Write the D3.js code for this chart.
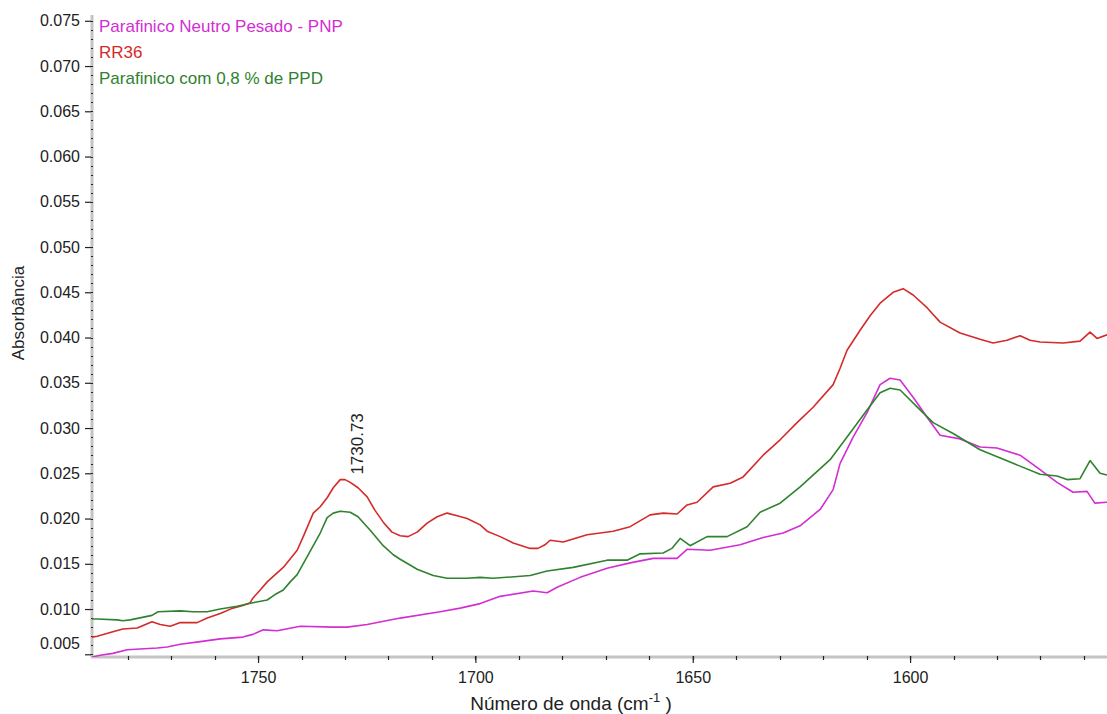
<!DOCTYPE html>
<html>
<head>
<meta charset="utf-8">
<script src="https://cdn.jsdelivr.net/npm/d3@7"></script>
<style>
  body { margin: 0; background: #fff; }
  text { font-family: "Liberation Sans", Arial, sans-serif; }
</style>
</head>
<body>
<svg id="chart" width="1107" height="714"></svg>
<script>
// series (wavenumber in cm-1, absorbance)
var pnpWave = [1788.2, 1786.3, 1783.4, 1780.1, 1773.2, 1770.9, 1767.9, 1763.3, 1758.7, 1753.5, 1751.2, 1748.8, 1745.6, 1740.3, 1732.7, 1729.5, 1724.9, 1717.3, 1708.1, 1703.5, 1698.9, 1694.3, 1686.7, 1683.5, 1681.2, 1675.9, 1669.7, 1664.4, 1659.1, 1653.6, 1651.3, 1646.0, 1639.1, 1633.8, 1629.2, 1625.3, 1620.7, 1617.7, 1616.1, 1613.1, 1609.9, 1606.9, 1604.6, 1602.3, 1599.3, 1596.1, 1593.1, 1588.5, 1583.9, 1580.0, 1574.7, 1570.1, 1566.2, 1562.5, 1559.3, 1557.5, 1554.7];
var pnpAbs = [0.0047, 0.0049, 0.0051, 0.0055, 0.0057, 0.0058, 0.0061, 0.0064, 0.0067, 0.0069, 0.0072, 0.0077, 0.0076, 0.0081, 0.0080, 0.0080, 0.0083, 0.0090, 0.0097, 0.0101, 0.0106, 0.0114, 0.0120, 0.0118, 0.0124, 0.0135, 0.0145, 0.0151, 0.0156, 0.0156, 0.0166, 0.0165, 0.0171, 0.0179, 0.0184, 0.0192, 0.0210, 0.0232, 0.0261, 0.0290, 0.0317, 0.0348, 0.0355, 0.0353, 0.0334, 0.0312, 0.0292, 0.0288, 0.0279, 0.0278, 0.0270, 0.0254, 0.0240, 0.0229, 0.0230, 0.0217, 0.0218];

var rrWave = [1788.2, 1787.0, 1783.4, 1781.1, 1777.8, 1774.4, 1772.5, 1770.2, 1767.9, 1764.0, 1761.7, 1758.7, 1755.8, 1753.5, 1751.8, 1751.2, 1749.5, 1747.9, 1744.2, 1741.0, 1739.6, 1737.3, 1735.7, 1734.1, 1732.7, 1731.1, 1730.0, 1728.8, 1727.0, 1724.9, 1723.1, 1721.2, 1719.2, 1717.3, 1715.5, 1713.4, 1711.1, 1708.8, 1706.5, 1704.2, 1701.9, 1698.9, 1697.3, 1694.3, 1691.3, 1687.4, 1685.6, 1684.0, 1682.8, 1679.8, 1674.3, 1668.3, 1664.4, 1659.8, 1656.8, 1653.6, 1651.3, 1649.0, 1645.3, 1641.4, 1638.4, 1633.8, 1629.9, 1626.0, 1622.3, 1617.7, 1616.1, 1614.5, 1611.5, 1609.2, 1606.9, 1603.9, 1601.6, 1599.3, 1596.1, 1593.1, 1588.5, 1583.9, 1580.9, 1577.7, 1574.7, 1572.4, 1570.1, 1564.8, 1560.9, 1558.6, 1557.0, 1554.7];
var rrAbs = [0.0069, 0.0070, 0.0075, 0.0078, 0.0079, 0.0086, 0.0083, 0.0081, 0.0085, 0.0085, 0.0090, 0.0095, 0.0101, 0.0104, 0.0107, 0.0112, 0.0121, 0.0130, 0.0146, 0.0165, 0.0180, 0.0206, 0.0213, 0.0223, 0.0234, 0.0243, 0.0243, 0.0240, 0.0234, 0.0224, 0.0209, 0.0196, 0.0185, 0.0181, 0.0180, 0.0185, 0.0195, 0.0202, 0.0206, 0.0203, 0.0200, 0.0193, 0.0186, 0.0180, 0.0173, 0.0167, 0.0167, 0.0171, 0.0176, 0.0174, 0.0182, 0.0186, 0.0191, 0.0204, 0.0206, 0.0205, 0.0215, 0.0218, 0.0235, 0.0239, 0.0246, 0.0270, 0.0287, 0.0306, 0.0323, 0.0348, 0.0366, 0.0386, 0.0408, 0.0424, 0.0438, 0.0450, 0.0454, 0.0447, 0.0433, 0.0417, 0.0405, 0.0398, 0.0394, 0.0397, 0.0402, 0.0397, 0.0395, 0.0394, 0.0396, 0.0406, 0.0399, 0.0403];

var ppdWave = [1788.2, 1787.0, 1782.4, 1781.1, 1779.4, 1774.4, 1773.0, 1767.9, 1765.0, 1761.7, 1758.7, 1754.8, 1751.2, 1747.9, 1746.1, 1744.2, 1742.6, 1741.0, 1738.7, 1735.7, 1734.1, 1732.7, 1731.1, 1728.8, 1727.0, 1724.2, 1721.2, 1718.9, 1717.3, 1713.4, 1709.7, 1706.5, 1701.9, 1698.9, 1695.9, 1687.4, 1683.5, 1677.5, 1669.7, 1665.1, 1662.1, 1656.8, 1654.8, 1652.9, 1650.6, 1646.7, 1642.1, 1637.5, 1634.5, 1629.9, 1625.3, 1618.4, 1614.5, 1609.9, 1606.9, 1604.6, 1602.3, 1597.7, 1594.7, 1590.1, 1583.9, 1576.3, 1570.1, 1566.2, 1563.9, 1560.9, 1558.6, 1556.3, 1554.7];
var ppdAbs = [0.0089, 0.0089, 0.0088, 0.0087, 0.0088, 0.0093, 0.0097, 0.0098, 0.0097, 0.0097, 0.0100, 0.0103, 0.0107, 0.0110, 0.0116, 0.0121, 0.0130, 0.0138, 0.0158, 0.0184, 0.0201, 0.0206, 0.0208, 0.0207, 0.0202, 0.0187, 0.0170, 0.0160, 0.0155, 0.0144, 0.0137, 0.0134, 0.0134, 0.0135, 0.0134, 0.0137, 0.0142, 0.0146, 0.0154, 0.0154, 0.0161, 0.0162, 0.0167, 0.0178, 0.0170, 0.0180, 0.0180, 0.0191, 0.0207, 0.0217, 0.0235, 0.0265, 0.0290, 0.0320, 0.0339, 0.0344, 0.0342, 0.0320, 0.0306, 0.0294, 0.0276, 0.0261, 0.0249, 0.0247, 0.0243, 0.0244, 0.0264, 0.0250, 0.0248];

var seriesNames = ['Parafinico Neutro Pesado - PNP', 'RR36', 'Parafinico com 0,8 % de PPD'];
var seriesColors = ['#d22ed2', '#d42a2a', '#2f822f'];

var xTicks = [1750, 1700, 1650, 1600];
var yTicks = [0.005, 0.010, 0.015, 0.020, 0.025, 0.030, 0.035, 0.040, 0.045, 0.050, 0.055, 0.060, 0.065, 0.070, 0.075];

var peakLabel = '1730.73';
var peakWave = 1730.73;
var peakAbs = 0.0243;

var svg = d3.select('#chart');
var plotLeft = 92, plotRight = 1107, plotTop = 15, plotBottom = 657;

var x = d3.scaleLinear().domain([1788.2, 1554.7]).range([plotLeft, plotRight]);
var y = d3.scaleLinear().domain([0.0047, 0.07564]).range([plotBottom, plotTop]);

svg.append('defs').append('clipPath').attr('id', 'plot-clip')
  .append('rect').attr('x', plotLeft).attr('y', plotTop - 2)
  .attr('width', plotRight - plotLeft).attr('height', plotBottom - plotTop + 2);

// axis lines (thick light gray)
svg.append('line').attr('x1', plotLeft).attr('x2', plotLeft).attr('y1', plotTop).attr('y2', plotBottom + 1)
  .attr('stroke', '#c4c4c4').attr('stroke-width', 3);
svg.append('line').attr('x1', plotLeft - 1).attr('x2', plotRight).attr('y1', plotBottom).attr('y2', plotBottom)
  .attr('stroke', '#c4c4c4').attr('stroke-width', 3);

// minor ticks
var yMinor = d3.range(0.005, 0.0755, 0.001);
svg.append('g').selectAll('line').data(yMinor).enter().append('line')
  .attr('x1', plotLeft - 1).attr('x2', plotLeft + 1)
  .attr('y1', function (d) { return Math.round(y(d)) + 0.5; })
  .attr('y2', function (d) { return Math.round(y(d)) + 0.5; })
  .attr('stroke', '#222').attr('stroke-width', 1.2);

var xMinor = d3.range(1560, 1790, 10);
svg.append('g').selectAll('line').data(xMinor).enter().append('line')
  .attr('x1', function (d) { return Math.round(x(d)) + 0.5; })
  .attr('x2', function (d) { return Math.round(x(d)) + 0.5; })
  .attr('y1', plotBottom - 1).attr('y2', plotBottom + 3)
  .attr('stroke', '#222').attr('stroke-width', 1.2);

// y axis with major ticks and labels
var yAxis = svg.append('g').attr('transform', 'translate(' + (plotLeft - 1) + ',0)')
  .call(d3.axisLeft(y).tickValues(yTicks).tickSize(6).tickPadding(5).tickFormat(d3.format('.3f')));
yAxis.select('.domain').remove();
yAxis.selectAll('.tick line').attr('stroke', '#222').attr('stroke-width', 1.2);
yAxis.selectAll('.tick text').attr('font-size', 16).attr('fill', '#222')
  .style('font-family', '"Liberation Sans", Arial, sans-serif')
  .attr('dy', function (d) { return d === 0.005 ? '-0.35em' : '0.32em'; });

// x axis
var xAxis = svg.append('g').attr('transform', 'translate(0,' + (plotBottom - 1) + ')')
  .call(d3.axisBottom(x).tickValues(xTicks).tickSize(7).tickPadding(9).tickFormat(d3.format('d')));
xAxis.select('.domain').remove();
xAxis.selectAll('.tick line').attr('stroke', '#222').attr('stroke-width', 1.2);
xAxis.selectAll('.tick text').attr('font-size', 16).attr('fill', '#222')
  .style('font-family', '"Liberation Sans", Arial, sans-serif');

// spectra
var waves = [pnpWave, rrWave, ppdWave];
var abs = [pnpAbs, rrAbs, ppdAbs];
var line = d3.line()
  .x(function (d) { return x(d[0]); })
  .y(function (d) { return y(d[1]); });

var plot = svg.append('g').attr('clip-path', 'url(#plot-clip)');
[0, 1, 2].forEach(function (i) {
  var pts = d3.zip(waves[i], abs[i]);
  plot.append('path').datum(pts)
    .attr('d', line)
    .attr('fill', 'none')
    .attr('stroke', seriesColors[i])
    .attr('stroke-width', 1.6)
    .attr('stroke-linejoin', 'round');
});

// legend text
svg.append('g').selectAll('text').data(seriesNames).enter().append('text')
  .attr('x', plotLeft + 7)
  .attr('y', function (d, i) { return 32 + i * 26; })
  .attr('font-size', 17)
  .attr('fill', function (d, i) { return seriesColors[i]; })
  .text(function (d) { return d; });

// peak annotation
svg.append('text')
  .attr('transform', 'translate(' + (x(peakWave) + 21) + ',' + (y(peakAbs) - 5) + ') rotate(-90)')
  .attr('font-size', 17).attr('fill', '#222')
  .text(peakLabel);

// axis titles
var xt = svg.append('text').attr('x', 571).attr('y', 710).attr('text-anchor', 'middle')
  .attr('font-size', 19).attr('fill', '#222');
xt.append('tspan').text('Número de onda (cm');
xt.append('tspan').attr('font-size', 13).attr('dy', -8).text('-1');
xt.append('tspan').attr('dy', 8).text(' )');

svg.append('text')
  .attr('transform', 'translate(24,' + 313 + ') rotate(-90)')
  .attr('text-anchor', 'middle').attr('font-size', 17).attr('fill', '#222')
  .text('Absorbância');
</script>
</body>
</html>
